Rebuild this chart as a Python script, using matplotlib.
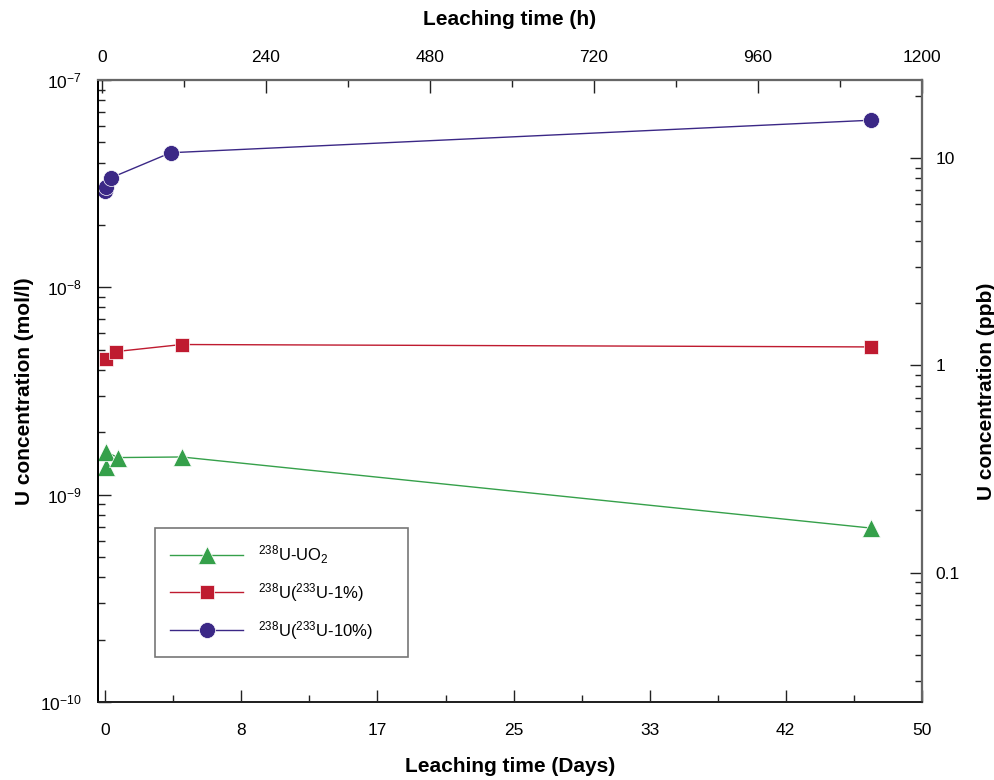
import numpy as np
import matplotlib.pyplot as plt
from matplotlib.ticker import FixedLocator, FixedFormatter, LogLocator, NullFormatter

plt.rcParams['font.family'] = ['Liberation Sans', 'DejaVu Sans']
plt.rcParams['mathtext.fontset'] = 'custom'
plt.rcParams['mathtext.rm'] = 'Liberation Sans'
plt.rcParams['mathtext.it'] = 'Liberation Sans:italic'
plt.rcParams['mathtext.bf'] = 'Liberation Sans:bold'

# leaching time in days, concentration in mol/l
days_uo2 = [0.02, 0.04, 0.76, 4.68, 46.9]
conc_uo2 = [1.36e-9, 1.61e-9, 1.51e-9, 1.52e-9, 6.9e-10]

days_1pct = [0.02, 0.64, 4.68, 46.9]
conc_1pct = [4.52e-9, 4.90e-9, 5.30e-9, 5.16e-9]

days_10pct = [0.0, 0.04, 0.32, 4.0, 46.9]
conc_10pct = [2.91e-8, 3.06e-8, 3.37e-8, 4.46e-8, 6.40e-8]

day_ticks = [0, 50 / 6, 100 / 6, 25, 200 / 6, 250 / 6, 50]
day_labels = ['0', '8', '17', '25', '33', '42', '50']
hour_ticks = [0, 240, 480, 720, 960, 1200]
mol_ticks = [1e-10, 1e-9, 1e-8, 1e-7]
mol_labels = ['$10^{-10}$', '$10^{-9}$', '$10^{-8}$', '$10^{-7}$']

PPB_PER_MOL = 238e6  # 238 g/mol -> µg/l

green = '#35a04a'
red = '#bf1b30'
blue = '#3b2886'

fig = plt.figure(figsize=(9.94, 7.8), dpi=100)
ax = fig.add_axes([0.0986, 0.1, 0.8287, 0.7974])

ax.plot(days_uo2, conc_uo2, color=green, lw=1, marker='^', ms=13,
        mec='white', mew=0.5, label='$^{238}$U-UO$_2$')
ax.plot(days_1pct, conc_1pct, color=red, lw=1, marker='s', ms=10,
        mec='white', mew=0.5, label='$^{238}$U($^{233}$U-1%)')
ax.plot(days_10pct, conc_10pct, color=blue, lw=1, marker='o', ms=11.5,
        mec='white', mew=0.5, label='$^{238}$U($^{233}$U-10%)')

ax.set_yscale('log')
ax.set_ylim(1e-10, 1e-7)
ax.set_xlim(-0.45, 50)
ax.xaxis.set_major_locator(FixedLocator(day_ticks))
ax.xaxis.set_major_formatter(FixedFormatter(day_labels))
ax.xaxis.set_minor_locator(FixedLocator(np.array(day_ticks[:-1]) + 25 / 6))
ax.yaxis.set_major_locator(FixedLocator(mol_ticks))
ax.yaxis.set_major_formatter(FixedFormatter(mol_labels))
ax.yaxis.set_minor_locator(LogLocator(base=10, subs=np.arange(2, 10)))
ax.yaxis.set_minor_formatter(NullFormatter())
ax.tick_params(which='both', direction='in', top=False, right=False,
               labelsize=12.5, color='#222222')
ax.tick_params(which='major', length=9, width=1)
ax.tick_params(which='minor', length=5, width=1)
ax.tick_params(axis='x', pad=15)
ax.tick_params(axis='y', pad=12)
ax.set_xlabel('Leaching time (Days)', fontsize=15, fontweight='bold', labelpad=14)
ax.set_ylabel('U concentration (mol/l)', fontsize=15, fontweight='bold', labelpad=4)

# top axis in hours
ax_top = ax.twiny()
ax_top.set_xlim(-5.4, 1200)
ax_top.set_xticks(hour_ticks)
ax_top.xaxis.set_minor_locator(FixedLocator(np.arange(120, 1200, 240)))
ax_top.tick_params(which='both', direction='in', labelsize=12.5, pad=11, color='#222222')
ax_top.tick_params(which='major', length=9, width=1)
ax_top.tick_params(which='minor', length=5, width=1)
ax_top.set_xlabel('Leaching time (h)', fontsize=15, fontweight='bold', labelpad=18)

# right axis in ppb
ax_r = ax.twinx()
ax_r.set_yscale('log')
ax_r.set_ylim(1e-10 * PPB_PER_MOL, 1e-7 * PPB_PER_MOL)
ax_r.yaxis.set_major_locator(FixedLocator([0.1, 1, 10]))
ax_r.yaxis.set_major_formatter(FixedFormatter(['0.1', '1', '10']))
ax_r.yaxis.set_minor_locator(LogLocator(base=10, subs=np.arange(2, 10)))
ax_r.yaxis.set_minor_formatter(NullFormatter())
ax_r.tick_params(which='both', direction='in', labelsize=12.5, pad=10, color='#222222')
ax_r.tick_params(which='major', length=9, width=1)
ax_r.tick_params(which='minor', length=5, width=1)
ax_r.set_ylabel('U concentration (ppb)', fontsize=15, fontweight='bold', labelpad=12)

for a in (ax, ax_top, ax_r):
    a.spines['left'].set_color('black')
    a.spines['bottom'].set_color('#222222')
    a.spines['top'].set_color('#666666')
    a.spines['right'].set_color('#666666')
    a.spines['left'].set_linewidth(1.2)
    a.spines['bottom'].set_linewidth(1.2)
    a.spines['top'].set_linewidth(1.5)
    a.spines['right'].set_linewidth(1.5)

leg = ax_r.legend(*ax.get_legend_handles_labels(), loc='lower left',
                  bbox_to_anchor=(0.069, 0.073, 0.307, 0.2), mode='expand',
                  fontsize=12, frameon=True, fancybox=False,
                  edgecolor='#555555', handlelength=4.4, handletextpad=0.9,
                  borderpad=0.9, labelspacing=0.9, borderaxespad=0)
leg.get_frame().set_linewidth(1.2)

fig.savefig('out.png', dpi=100)
